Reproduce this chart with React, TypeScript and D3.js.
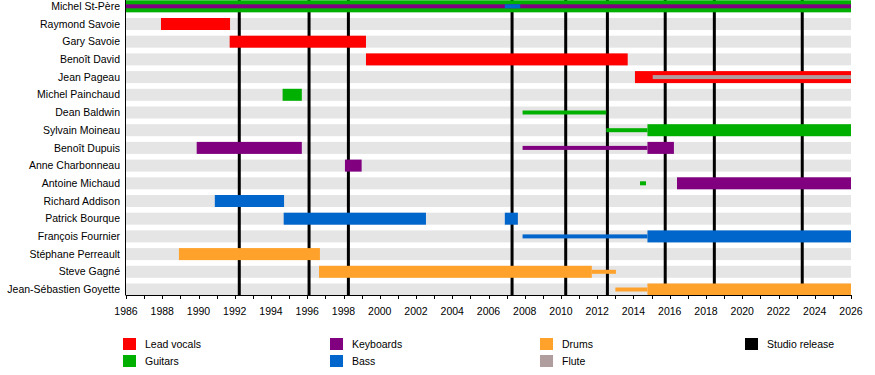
import React from "react";
import * as d3 from "d3";

const members = [
  "Michel St-Père",
  "Raymond Savoie",
  "Gary Savoie",
  "Benoît David",
  "Jean Pageau",
  "Michel Painchaud",
  "Dean Baldwin",
  "Sylvain Moineau",
  "Benoît Dupuis",
  "Anne Charbonneau",
  "Antoine Michaud",
  "Richard Addison",
  "Patrick Bourque",
  "François Fournier",
  "Stéphane Perreault",
  "Steve Gagné",
  "Jean-Sébastien Goyette",
];

const roles = ["Lead vocals", "Guitars", "Keyboards", "Bass", "Drums", "Flute"];
const roleColors = ["#ff0000", "#00b000", "#800080", "#0066cc", "#ffa22c", "#b09d9d"];

// [member, role, from, to, style]  style: full | thin | stripe
const spans: [string, string, number, number, string][] = [
  ["Michel St-Père", "Guitars", 1986, 2026, "full"],
  ["Michel St-Père", "Keyboards", 1986, 2026, "stripe"],
  ["Michel St-Père", "Bass", 2006.9, 2007.75, "stripe"],
  ["Raymond Savoie", "Lead vocals", 1987.93, 1991.74, "full"],
  ["Gary Savoie", "Lead vocals", 1991.72, 1999.24, "full"],
  ["Benoît David", "Lead vocals", 1999.24, 2013.68, "full"],
  ["Jean Pageau", "Lead vocals", 2014.08, 2026, "full"],
  ["Jean Pageau", "Flute", 2015.06, 2026, "stripe"],
  ["Michel Painchaud", "Guitars", 1994.64, 1995.7, "full"],
  ["Dean Baldwin", "Guitars", 2007.88, 2012.5, "thin"],
  ["Sylvain Moineau", "Guitars", 2012.5, 2014.77, "thin"],
  ["Sylvain Moineau", "Guitars", 2014.77, 2026, "full"],
  ["Benoît Dupuis", "Keyboards", 1989.9, 1995.7, "full"],
  ["Benoît Dupuis", "Keyboards", 2007.88, 2014.77, "thin"],
  ["Benoît Dupuis", "Keyboards", 2014.77, 2016.23, "full"],
  ["Anne Charbonneau", "Keyboards", 1998.08, 1999.0, "full"],
  ["Antoine Michaud", "Guitars", 2014.36, 2014.69, "thin"],
  ["Antoine Michaud", "Keyboards", 2016.4, 2026, "full"],
  ["Richard Addison", "Bass", 1990.9, 1994.72, "full"],
  ["Patrick Bourque", "Bass", 1994.7, 2002.55, "full"],
  ["Patrick Bourque", "Bass", 2006.9, 2007.62, "full"],
  ["François Fournier", "Bass", 2007.88, 2014.77, "thin"],
  ["François Fournier", "Bass", 2014.77, 2026, "full"],
  ["Stéphane Perreault", "Drums", 1988.92, 1996.7, "full"],
  ["Steve Gagné", "Drums", 1996.65, 2011.7, "full"],
  ["Steve Gagné", "Drums", 2011.7, 2013.03, "thin"],
  ["Jean-Sébastien Goyette", "Drums", 2013.0, 2014.77, "thin"],
  ["Jean-Sébastien Goyette", "Drums", 2014.77, 2026, "full"],
];

const studioReleases = [1992.25, 1996.1, 1998.27, 2007.3, 2010.26, 2012.56, 2015.75, 2018.46, 2023.31];

const yearStart = 1986;
const yearEnd = 2026;

const FONT = "'Liberation Sans', Arial, sans-serif";

export default function App() {
  const W = 875;
  const H = 375;
  const x = d3.scaleLinear().domain([yearStart, yearEnd]).range([126, 851]);
  const y = d3.scalePoint<string>().domain(members).range([6.3, 289.5]);
  const color = d3.scaleOrdinal<string, string>().domain(roles).range(roleColors);
  const axisY = 295;
  const barH = 12;
  const thinH = 4;
  const years = d3.range(yearStart, yearEnd + 1);
  const labelYears = years.filter((yr) => (yr - yearStart) % 2 === 0);

  const legendItems = [
    ...roles.map((r) => ({ label: r, color: color(r) })),
    { label: "Studio release", color: "#000000" },
  ];
  const legendCols = [123, 330, 540, 745];
  const legendRows = [338, 355];

  return (
    <svg
      width={W}
      height={H}
      style={{ position: "absolute", left: 0, top: 0, background: "#fff" }}
      fontFamily={FONT}
    >
      {members.map((m) => (
        <rect
          key={"bg" + m}
          x={x(yearStart)}
          y={(y(m) as number) - barH / 2}
          width={x(yearEnd) - x(yearStart)}
          height={barH}
          fill="#e5e5e5"
        />
      ))}
      {studioReleases.map((s) => (
        <line key={"sr" + s} x1={x(s)} x2={x(s)} y1={0} y2={axisY} stroke="#000" strokeWidth={3} />
      ))}
      {spans
        .filter((s) => s[4] !== "stripe")
        .map((s, i) => {
          const h = s[4] === "full" ? barH : thinH;
          return (
            <rect
              key={"b" + i}
              x={x(s[2])}
              y={(y(s[0]) as number) - h / 2}
              width={x(s[3]) - x(s[2])}
              height={h}
              fill={color(s[1])}
            />
          );
        })}
      {spans
        .filter((s) => s[4] === "stripe")
        .map((s, i) => (
          <rect
            key={"s" + i}
            x={x(s[2])}
            y={(y(s[0]) as number) - thinH / 2}
            width={x(s[3]) - x(s[2])}
            height={thinH}
            fill={color(s[1])}
          />
        ))}
      {members.map((m) => (
        <text
          key={"l" + m}
          x={120}
          y={y(m) as number}
          dy="0.35em"
          textAnchor="end"
          fontSize={10.5}
          fill="#000"
        >
          {m}
        </text>
      ))}
      <line x1={125.5} x2={125.5} y1={0} y2={axisY} stroke="#000" strokeWidth={1} />
      <line x1={125.5} x2={x(yearEnd) + 0.5} y1={axisY + 0.5} y2={axisY + 0.5} stroke="#000" strokeWidth={1} />
      {years.map((yr) => (
        <line
          key={"t" + yr}
          x1={Math.round(x(yr)) + 0.5}
          x2={Math.round(x(yr)) + 0.5}
          y1={axisY}
          y2={axisY + 4}
          stroke="#000"
          strokeWidth={1}
        />
      ))}
      {labelYears.map((yr) => (
        <text key={"tl" + yr} x={x(yr)} y={315} textAnchor="middle" fontSize={10.5} fill="#000">
          {yr}
        </text>
      ))}
      {legendItems.map((it, i) => {
        const col = Math.floor(i / 2);
        const row = i % 2;
        return (
          <g key={"lg" + it.label}>
            <rect x={legendCols[col]} y={legendRows[row]} width={13} height={12} fill={it.color} />
            <text
              x={legendCols[col] + 22}
              y={legendRows[row] + 6}
              dy="0.35em"
              fontSize={10.5}
              fill="#000"
            >
              {it.label}
            </text>
          </g>
        );
      })}
    </svg>
  );
}
